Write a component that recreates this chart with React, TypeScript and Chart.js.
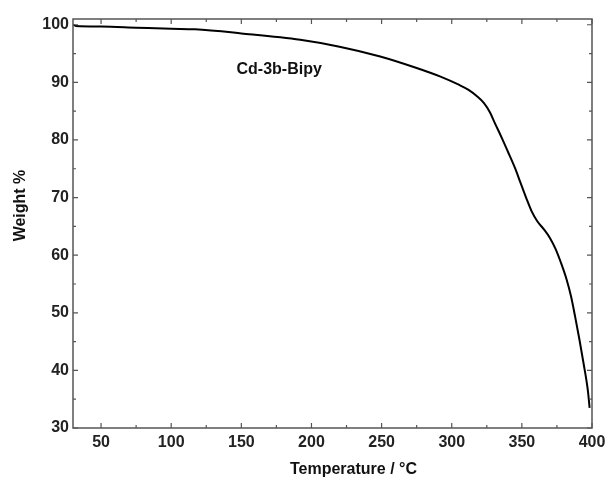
import React, { useEffect, useRef } from "react";
import { Chart, registerables } from "chart.js";

Chart.register(...registerables);

// ---- Data ----
const temperatures = [30, 32, 50, 75, 100, 117, 150, 192, 220, 249, 275, 292, 305, 312, 318, 323, 327, 331, 336, 340, 345, 349, 353, 357, 361, 366, 370, 374, 378, 382, 385, 388, 391, 394, 397, 398.3];
const weights = [100.0, 99.8, 99.7, 99.5, 99.3, 99.2, 98.5, 97.4, 96.2, 94.5, 92.5, 91.0, 89.6, 88.7, 87.6, 86.4, 84.9, 82.8, 80.2, 78.0, 75.2, 72.6, 70.0, 67.6, 65.9, 64.4, 63.0, 61.1, 58.6, 55.7, 52.9, 49.3, 45.4, 41.2, 36.6, 33.5];

const xMajorTicks = [50, 100, 150, 200, 250, 300, 350, 400];
const xMinorTicks = [75, 125, 175, 225, 275, 325, 375];
const yMajorTicks = [30, 40, 50, 60, 70, 80, 90, 100];
const yMinorTicks = [35, 45, 55, 65, 75, 85, 95];

const seriesLabel = "Cd-3b-Bipy";
const xTitle = "Temperature / °C";
const yTitle = "Weight %";

const FONT = "'Liberation Sans', Arial, Helvetica, sans-serif";

const framePlugin = {
  id: "frameTicks",
  afterDraw(chart: any) {
    const { ctx, chartArea, scales } = chart;
    const { left, right, top, bottom } = chartArea;
    const xs = scales.x;
    const ys = scales.y;
    ctx.save();
    ctx.strokeStyle = "#555";
    ctx.lineWidth = 1.5;
    ctx.strokeRect(left, top, right - left, bottom - top);
    ctx.lineWidth = 1.2;
    const drawX = (vals: number[], len: number) => {
      vals.forEach((v) => {
        const px = xs.getPixelForValue(v);
        ctx.beginPath();
        ctx.moveTo(px, bottom);
        ctx.lineTo(px, bottom - len);
        ctx.moveTo(px, top);
        ctx.lineTo(px, top + len);
        ctx.stroke();
      });
    };
    const drawY = (vals: number[], len: number) => {
      vals.forEach((v) => {
        const py = ys.getPixelForValue(v);
        ctx.beginPath();
        ctx.moveTo(left, py);
        ctx.lineTo(left + len, py);
        ctx.moveTo(right, py);
        ctx.lineTo(right - len, py);
        ctx.stroke();
      });
    };
    drawX(xMajorTicks, 5);
    drawX(xMinorTicks, 3);
    drawY(yMajorTicks, 5);
    drawY(yMinorTicks, 3);

    ctx.fillStyle = "#111";
    ctx.textAlign = "center";
    ctx.textBaseline = "middle";
    ctx.font = `bold 16px ${FONT}`;
    ctx.fillText(seriesLabel, xs.getPixelForValue(177), ys.getPixelForValue(92.3));
    ctx.fillText(xTitle, (left + right) / 2 + 21, bottom + 42);
    ctx.translate(left - 52, (top + bottom) / 2 - 18);
    ctx.rotate(-Math.PI / 2);
    ctx.fillText(yTitle, 0, 0);
    ctx.restore();
  },
};

export default function App() {
  const ref = useRef<HTMLCanvasElement | null>(null);

  useEffect(() => {
    document.body.style.margin = "0";
    if (!ref.current) return;
    const chart = new Chart(ref.current, {
      type: "line",
      data: {
        datasets: [
          {
            label: seriesLabel,
            data: temperatures.map((t, i) => ({ x: t, y: weights[i] })),
            borderColor: "#000",
            borderWidth: 2,
            pointRadius: 0,
            fill: false,
            cubicInterpolationMode: "monotone",
          },
        ],
      },
      options: {
        animation: false,
        responsive: false,
        devicePixelRatio: 1,
        layout: { padding: { left: 0, right: 14, top: 19, bottom: 0 } },
        plugins: { legend: { display: false }, tooltip: { enabled: false } },
        scales: {
          x: {
            type: "linear",
            min: 30,
            max: 400,
            afterBuildTicks: (s: any) => {
              s.ticks = xMajorTicks.map((v) => ({ value: v }));
            },
            afterFit: (s: any) => {
              s.height = 54;
              s.paddingLeft = 0;
              s.paddingRight = 0;
            },
            grid: { display: false, drawTicks: false },
            border: { display: false },
            ticks: {
              padding: 5,
              color: "#222",
              font: { family: FONT, size: 16, weight: "bold" },
              maxRotation: 0,
            },
          },
          y: {
            type: "linear",
            min: 30,
            max: 101,
            afterBuildTicks: (s: any) => {
              s.ticks = yMajorTicks.map((v) => ({ value: v }));
            },
            afterFit: (s: any) => {
              s.width = 73;
              s.paddingTop = 0;
              s.paddingBottom = 0;
            },
            grid: { display: false, drawTicks: false },
            border: { display: false },
            ticks: {
              padding: 4,
              color: "#222",
              font: { family: FONT, size: 16, weight: "bold" },
            },
          },
        },
      },
      plugins: [framePlugin],
    } as any);
    return () => chart.destroy();
  }, []);

  return (
    <div style={{ width: 606, height: 482, background: "#fff" }}>
      <canvas ref={ref} width={606} height={482} style={{ display: "block" }} />
    </div>
  );
}
